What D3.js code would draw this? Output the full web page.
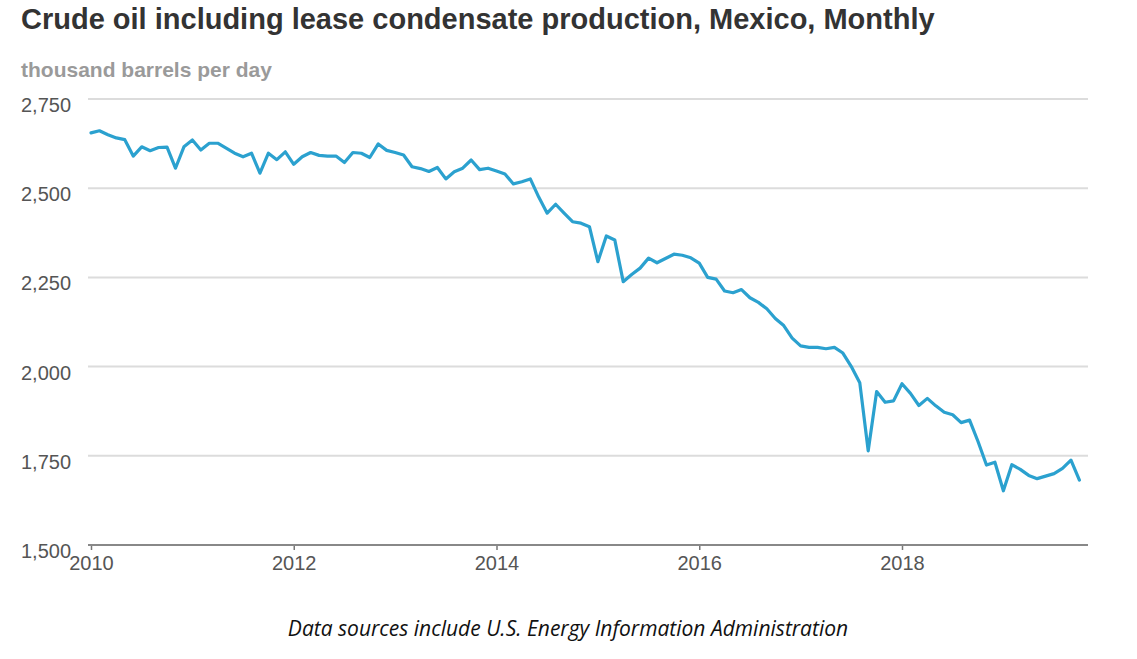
<!DOCTYPE html>
<html>
<head>
<meta charset="utf-8">
<script src="https://cdn.jsdelivr.net/npm/d3@7"></script>
<style>
  body { margin: 0; background: #fff; }
</style>
</head>
<body>
<div id="chart"></div>
<script>
const startYear = 2010;
// thousand barrels per day, monthly from Jan 2010
const production = [
	2655, 2661, 2650, 2641, 2636, 2590, 2616, 2605, 2614, 2615, 2556, 2616,
	2635, 2607, 2626, 2626, 2612, 2598, 2588, 2598, 2542, 2598, 2580, 2602,
	2567, 2588, 2600, 2592, 2590, 2590, 2572, 2600, 2598, 2586, 2624, 2606,
	2600, 2593, 2560, 2555, 2547, 2558, 2526, 2546, 2556, 2579, 2552, 2556,
	2548, 2540, 2512, 2518, 2526, 2475, 2430, 2455, 2430, 2406, 2402, 2392,
	2294, 2366, 2355, 2238, 2258, 2276, 2304, 2291, 2303, 2315, 2312, 2305,
	2290, 2250, 2245, 2212, 2207, 2216, 2193, 2180, 2162, 2135, 2115, 2080,
	2058, 2054, 2054, 2050, 2054, 2038, 2000, 1955, 1764, 1930, 1900, 1904,
	1952, 1925, 1891, 1911, 1890, 1872, 1865, 1843, 1850, 1790, 1724, 1732,
	1652, 1725, 1712, 1695, 1686, 1693, 1700, 1715, 1738, 1682
];
const yTicks = [1500, 1750, 2000, 2250, 2500, 2750];
const xTicks = [2010, 2012, 2014, 2016, 2018];

const title = 'Crude oil including lease condensate production, Mexico, Monthly';
const unit = 'thousand barrels per day';
const source = 'Data sources include U.S. Energy Information Administration';

const width = 1137;
const height = 659;

const svg = d3.select('#chart')
	.append('svg')
	.attr('width', width)
	.attr('height', height)
	.attr('font-family', 'Liberation Sans, Arial, sans-serif');

const x = d3.scaleLinear().domain([2010, 2018]).range([91, 902]);
const y = d3.scaleLinear().domain([1500, 2750]).range([545, 99]);

const data = production.map((v, i) => ({t: startYear + i / 12, v}));

svg.append('text')
	.attr('x', 21).attr('y', 29)
	.attr('font-size', 29).attr('font-weight', 'bold')
	.attr('fill', '#333')
	.text(title);

svg.append('text')
	.attr('x', 21).attr('y', 77)
	.attr('font-size', 21).attr('font-weight', 'bold')
	.attr('fill', '#9a9a9a')
	.text(unit);

// gridlines
svg.append('g')
	.selectAll('line')
	.data(yTicks.filter(d => d !== 1500))
	.join('line')
	.attr('x1', 88).attr('x2', 1088)
	.attr('y1', d => y(d)).attr('y2', d => y(d))
	.attr('stroke', '#dcdcdc')
	.attr('stroke-width', 2);

svg.append('g')
	.selectAll('text')
	.data(yTicks)
	.join('text')
	.attr('x', 21)
	.attr('y', d => y(d) + 13)
	.attr('font-size', 20)
	.attr('fill', '#555')
	.text(d => d3.format(',')(d));

// x axis
const xAxis = svg.append('g')
	.attr('transform', `translate(0,${y(1500)})`)
	.call(d3.axisBottom(x).tickValues(xTicks).tickFormat(d3.format('d')).tickSize(5).tickSizeOuter(0));
xAxis.select('.domain').remove();
xAxis.append('line')
	.attr('x1', 88).attr('x2', 1088)
	.attr('stroke', '#888').attr('stroke-width', 2);
xAxis.selectAll('.tick line').attr('stroke', '#777').attr('stroke-width', 1.5);
xAxis.selectAll('.tick text')
	.attr('font-size', 20)
	.attr('font-family', 'Liberation Sans, Arial, sans-serif')
	.attr('fill', '#555')
	.attr('y', 25)
	.attr('dy', 0);

const line = d3.line()
	.x(d => x(d.t))
	.y(d => y(d.v));

svg.append('path')
	.datum(data)
	.attr('d', line)
	.attr('fill', 'none')
	.attr('stroke', '#2ba1cf')
	.attr('stroke-width', 3.2)
	.attr('stroke-linejoin', 'round')
	.attr('stroke-linecap', 'round');

svg.append('text')
	.attr('x', 568).attr('y', 636)
	.attr('text-anchor', 'middle')
	.attr('font-size', 21)
	.attr('font-style', 'italic')
	.attr('font-family', 'Open Sans, sans-serif')
	.attr('fill', '#111')
	.text(source);
</script>
</body>
</html>
